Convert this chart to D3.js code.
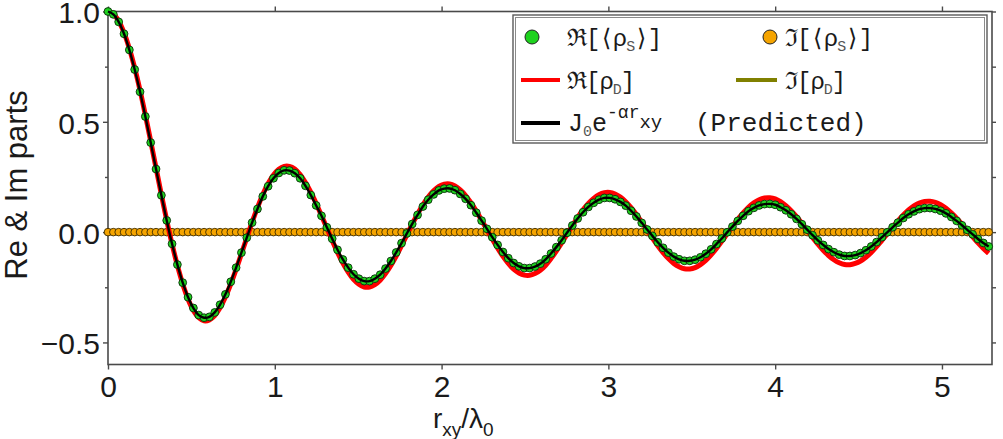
<!DOCTYPE html>
<html>
<head>
<meta charset="utf-8">
<title>Re &amp; Im parts</title>
<script src="https://d3js.org/d3.v7.min.js"></script>
<style>
  body { margin: 0; background: #fff; }
  svg { display: block; }
  text { font-family: "Liberation Sans", Arial, sans-serif; }
</style>
</head>
<body>
<svg width="1003" height="439"></svg>
<script>
// sample positions r_xy / lambda_0
const rxy = [
  0, 0.032, 0.064, 0.096, 0.128, 0.16, 0.192, 0.224, 0.256, 0.288,
  0.32, 0.352, 0.384, 0.416, 0.448, 0.48, 0.512, 0.544, 0.576, 0.608,
  0.64, 0.672, 0.704, 0.736, 0.768, 0.8, 0.832, 0.864, 0.896, 0.928,
  0.96, 0.992, 1.024, 1.056, 1.088, 1.12, 1.152, 1.184, 1.216, 1.248,
  1.28, 1.312, 1.344, 1.376, 1.408, 1.44, 1.472, 1.504, 1.536, 1.568,
  1.6, 1.632, 1.664, 1.696, 1.728, 1.76, 1.792, 1.824, 1.856, 1.888,
  1.92, 1.952, 1.984, 2.016, 2.048, 2.08, 2.112, 2.144, 2.176, 2.208,
  2.24, 2.272, 2.304, 2.336, 2.368, 2.4, 2.432, 2.464, 2.496, 2.528,
  2.56, 2.592, 2.624, 2.656, 2.688, 2.72, 2.752, 2.784, 2.816, 2.848,
  2.88, 2.912, 2.944, 2.976, 3.008, 3.04, 3.072, 3.104, 3.136, 3.168,
  3.2, 3.232, 3.264, 3.296, 3.328, 3.36, 3.392, 3.424, 3.456, 3.488,
  3.52, 3.552, 3.584, 3.616, 3.648, 3.68, 3.712, 3.744, 3.776, 3.808,
  3.84, 3.872, 3.904, 3.936, 3.968, 4, 4.032, 4.064, 4.096, 4.128,
  4.16, 4.192, 4.224, 4.256, 4.288, 4.32, 4.352, 4.384, 4.416, 4.448,
  4.48, 4.512, 4.544, 4.576, 4.608, 4.64, 4.672, 4.704, 4.736, 4.768,
  4.8, 4.832, 4.864, 4.896, 4.928, 4.96, 4.992, 5.024, 5.056, 5.088,
  5.12, 5.152, 5.184, 5.216, 5.248, 5.28
];

// Re[<rho_S>]  (green points, they sit on the J0 e^{-a r} prediction)
const reS = [
  1.000, 0.987, 0.953, 0.899, 0.826, 0.737, 0.636, 0.524, 0.406, 0.286,
  0.167, 0.053, -0.053, -0.147, -0.229, -0.295, -0.344, -0.376, -0.388, -0.384,
  -0.364, -0.329, -0.282, -0.225, -0.161, -0.093, -0.025, 0.043, 0.105, 0.162,
  0.208, 0.244, 0.268, 0.280, 0.279, 0.267, 0.244, 0.210, 0.168, 0.121,
  0.074, 0.022, -0.030, -0.080, -0.124, -0.161, -0.191, -0.211, -0.222, -0.222,
  -0.211, -0.193, -0.165, -0.131, -0.092, -0.050, -0.006, 0.037, 0.078, 0.116,
  0.147, 0.171, 0.189, 0.197, 0.198, 0.190, 0.173, 0.151, 0.122, 0.088,
  0.052, 0.015, -0.023, -0.058, -0.090, -0.118, -0.140, -0.155, -0.163, -0.163,
  -0.156, -0.143, -0.123, -0.097, -0.068, -0.037, -0.003, 0.030, 0.062, 0.090,
  0.114, 0.133, 0.147, 0.155, 0.155, 0.149, 0.137, 0.120, 0.097, 0.071,
  0.042, 0.012, -0.017, -0.046, -0.071, -0.093, -0.111, -0.123, -0.130, -0.130,
  -0.125, -0.114, -0.098, -0.078, -0.054, -0.029, -0.001, 0.025, 0.051, 0.074,
  0.095, 0.110, 0.121, 0.127, 0.128, 0.124, 0.113, 0.099, 0.081, 0.060,
  0.036, 0.011, -0.014, -0.037, -0.058, -0.077, -0.091, -0.102, -0.108, -0.108,
  -0.104, -0.095, -0.082, -0.065, -0.045, -0.023, -0.001, 0.022, 0.043, 0.064,
  0.081, 0.094, 0.104, 0.109, 0.109, 0.105, 0.097, 0.085, 0.069, 0.051,
  0.031, 0.010, -0.010, -0.031, -0.049, -0.065
];

// Re[rho_D]  (red line)
const reD = [
  1.000, 0.989, 0.957, 0.904, 0.832, 0.744, 0.643, 0.531, 0.412, 0.291,
  0.170, 0.054, -0.054, -0.151, -0.235, -0.304, -0.355, -0.388, -0.402, -0.398,
  -0.378, -0.343, -0.294, -0.235, -0.169, -0.098, -0.026, 0.045, 0.111, 0.171,
  0.220, 0.259, 0.285, 0.298, 0.298, 0.286, 0.261, 0.225, 0.181, 0.130,
  0.075, 0.018, -0.038, -0.092, -0.140, -0.181, -0.214, -0.236, -0.249, -0.249,
  -0.238, -0.218, -0.188, -0.151, -0.108, -0.061, -0.012, 0.036, 0.082, 0.124,
  0.159, 0.187, 0.207, 0.217, 0.218, 0.209, 0.191, 0.166, 0.133, 0.095,
  0.054, 0.011, -0.032, -0.073, -0.110, -0.142, -0.168, -0.185, -0.195, -0.196,
  -0.188, -0.173, -0.150, -0.120, -0.086, -0.049, -0.010, 0.029, 0.067, 0.101,
  0.130, 0.153, 0.170, 0.179, 0.180, 0.173, 0.159, 0.138, 0.111, 0.080,
  0.045, 0.009, -0.027, -0.062, -0.093, -0.120, -0.142, -0.157, -0.166, -0.167,
  -0.161, -0.147, -0.128, -0.103, -0.074, -0.042, -0.008, 0.025, 0.058, 0.087,
  0.113, 0.133, 0.147, 0.155, 0.156, 0.151, 0.138, 0.120, 0.097, 0.070,
  0.040, 0.008, -0.024, -0.054, -0.082, -0.106, -0.125, -0.139, -0.147, -0.148,
  -0.142, -0.131, -0.114, -0.092, -0.066, -0.037, -0.008, 0.022, 0.051, 0.078,
  0.101, 0.119, 0.132, 0.139, 0.140, 0.135, 0.124, 0.108, 0.087, 0.063,
  0.036, 0.007, -0.021, -0.049, -0.074, -0.096
];

// Im[<rho_S>]  (orange points)
const imS = [
  0,0,0,0,0,0,0,0,0,0, 0,0,0,0,0,0,0,0,0,0, 0,0,0,0,0,0,0,0,0,0,
  0,0,0,0,0,0,0,0,0,0, 0,0,0,0,0,0,0,0,0,0, 0,0,0,0,0,0,0,0,0,0,
  0,0,0,0,0,0,0,0,0,0, 0,0,0,0,0,0,0,0,0,0, 0,0,0,0,0,0,0,0,0,0,
  0,0,0,0,0,0,0,0,0,0, 0,0,0,0,0,0,0,0,0,0, 0,0,0,0,0,0,0,0,0,0,
  0,0,0,0,0,0,0,0,0,0, 0,0,0,0,0,0,0,0,0,0, 0,0,0,0,0,0,0,0,0,0,
  0,0,0,0,0,0,0,0,0,0, 0,0,0,0,0,0
];

// Im[rho_D]  (olive line)
const imD = [
  0,0,0,0,0,0,0,0,0,0, 0,0,0,0,0,0,0,0,0,0, 0,0,0,0,0,0,0,0,0,0,
  0,0,0,0,0,0,0,0,0,0, 0,0,0,0,0,0,0,0,0,0, 0,0,0,0,0,0,0,0,0,0,
  0,0,0,0,0,0,0,0,0,0, 0,0,0,0,0,0,0,0,0,0, 0,0,0,0,0,0,0,0,0,0,
  0,0,0,0,0,0,0,0,0,0, 0,0,0,0,0,0,0,0,0,0, 0,0,0,0,0,0,0,0,0,0,
  0,0,0,0,0,0,0,0,0,0, 0,0,0,0,0,0,0,0,0,0, 0,0,0,0,0,0,0,0,0,0,
  0,0,0,0,0,0,0,0,0,0, 0,0,0,0,0,0
];

// J0 e^{-a r_xy} prediction (black line) - the green points lie on it
const predicted = reS;

const xTicks = [0, 1, 2, 3, 4, 5];
const yTicks = [-0.5, 0, 0.5, 1.0];
const yMinor = [-0.25, 0.25, 0.75];
const yRight = [-0.5, -0.25, 0, 0.25, 0.5, 0.75, 1.0];

const cGreen = "#1ed21e", cOrange = "#f5a400", cRed = "#ff0000",
      cOlive = "#808000", cAxis = "#4a4a4a";

const svg = d3.select("svg"),
    margin = { top: 11.5, right: 11, bottom: 74.5, left: 108 },
    width = +svg.attr("width") - margin.left - margin.right,
    height = +svg.attr("height") - margin.top - margin.bottom,
    g = svg.append("g").attr("transform", `translate(${margin.left},${margin.top})`);

const x = d3.scaleLinear().domain([0, 5.3]).range([0, width]);
const y = d3.scaleLinear().domain([-0.6, 1.0]).range([height, 0]);

function styleAxis(sel, size) {
  sel.select(".domain").remove();
  sel.selectAll(".tick line").attr("stroke", cAxis).attr("stroke-width", 1.4);
  sel.selectAll(".tick text").attr("fill", "#1a1a1a")
    .style("font-size", size + "px").style("font-family", '"Liberation Sans", Arial, sans-serif');
}

// axes
g.append("g").attr("transform", `translate(0,${height})`)
  .call(d3.axisBottom(x).tickValues(xTicks).tickSize(5).tickPadding(6).tickFormat(d3.format("d")))
  .call(styleAxis, 30);
g.append("g")
  .call(d3.axisLeft(y).tickValues(yTicks).tickSize(5).tickPadding(3).tickFormat(d3.format(".1f")))
  .call(styleAxis, 30)
  .selectAll(".tick text").attr("dy", "0.38em");
g.append("g")
  .call(d3.axisLeft(y).tickValues(yMinor).tickSize(3).tickFormat(""))
  .call(styleAxis, 30);
g.append("g").attr("transform", `translate(${width},0)`)
  .call(d3.axisRight(y).tickValues(yRight).tickSize(4).tickFormat(""))
  .call(styleAxis, 30);
g.append("g")
  .call(d3.axisTop(x).tickValues(xTicks).tickSize(5).tickFormat(""))
  .call(styleAxis, 30);

g.append("rect").attr("width", width).attr("height", height)
  .attr("fill", "none").attr("stroke", cAxis).attr("stroke-width", 1.6);

// series
const line = d3.line().x((d, i) => x(rxy[i])).y(d => y(d)).curve(d3.curveCatmullRom);

g.append("path").datum(imD).attr("d", line)
  .attr("fill", "none").attr("stroke", cOlive).attr("stroke-width", 4);

g.append("g").selectAll("circle").data(imS).join("circle")
  .attr("cx", (d, i) => x(rxy[i])).attr("cy", d => y(d)).attr("r", 3.8)
  .attr("fill", cOrange).attr("stroke", "#3a2a00").attr("stroke-width", 0.9);

g.append("path").datum(reD).attr("d", line)
  .attr("fill", "none").attr("stroke", cRed).attr("stroke-width", 5)
  .attr("stroke-linejoin", "round");

g.append("g").selectAll("circle").data(reS).join("circle")
  .attr("cx", (d, i) => x(rxy[i])).attr("cy", d => y(d)).attr("r", 3.9)
  .attr("fill", cGreen).attr("stroke", "#0a2a0a").attr("stroke-width", 0.9);

g.append("path").datum(predicted).attr("d", line)
  .attr("fill", "none").attr("stroke", "#000").attr("stroke-width", 2.4)
  .attr("stroke-linejoin", "round");

// axis titles
svg.append("text")
  .attr("transform", "translate(27,185) rotate(-90)")
  .attr("text-anchor", "middle").attr("fill", "#1a1a1a")
  .style("font-size", "31px").text("Re & Im parts");

const xl = svg.append("text").attr("x", 433).attr("y", 428)
  .attr("fill", "#1a1a1a").style("font-size", "28px");
xl.append("tspan").text("r");
xl.append("tspan").attr("dy", 8).style("font-size", "19px").text("xy");
xl.append("tspan").attr("dy", -8).text("/λ");
xl.append("tspan").attr("dy", 8).style("font-size", "19px").text("0");

// legend
const lg = svg.append("g");
lg.append("rect").attr("x", 513).attr("y", 15).attr("width", 474).attr("height", 128)
  .attr("fill", "#fff").attr("stroke", "#5a5a5a").attr("stroke-width", 1.4);
lg.append("rect").attr("x", 515.5).attr("y", 17.5).attr("width", 469).attr("height", 123)
  .attr("fill", "none").attr("stroke", "#8a8a8a").attr("stroke-width", 1);

const mono = '"Liberation Mono", "DejaVu Sans Mono", monospace';

function legText(x0, y0, main, sub, tail) {
  const t = lg.append("text").attr("x", x0).attr("y", y0).attr("fill", "#1a1a1a")
    .style("font-family", mono).style("font-size", "24px").attr("letter-spacing", -1);
  t.append("tspan").text(main);
  t.append("tspan").attr("dy", 5).attr("fill", "#555").style("font-size", "15px").text(sub);
  t.append("tspan").attr("dy", -5).text(tail);
}

lg.append("circle").attr("cx", 532).attr("cy", 37).attr("r", 7)
  .attr("fill", cGreen).attr("stroke", "#222").attr("stroke-width", 1);
legText(567, 46, "ℜ[⟨ρ", "S", "⟩]");
lg.append("circle").attr("cx", 770).attr("cy", 37).attr("r", 7)
  .attr("fill", cOrange).attr("stroke", "#222").attr("stroke-width", 1);
legText(785, 46, "ℑ[⟨ρ", "S", "⟩]");

lg.append("line").attr("x1", 521).attr("x2", 560).attr("y1", 80).attr("y2", 80)
  .attr("stroke", cRed).attr("stroke-width", 4);
legText(567, 89, "ℜ[ρ", "D", "]");
lg.append("line").attr("x1", 736).attr("x2", 777).attr("y1", 80).attr("y2", 80)
  .attr("stroke", cOlive).attr("stroke-width", 4);
legText(785, 89, "ℑ[ρ", "D", "]");

lg.append("line").attr("x1", 521).attr("x2", 560).attr("y1", 123).attr("y2", 123)
  .attr("stroke", "#000").attr("stroke-width", 4);
const pt = lg.append("text").attr("x", 568).attr("y", 131).attr("fill", "#1a1a1a")
  .style("font-family", mono).style("font-size", "25px");
pt.append("tspan").text("J");
pt.append("tspan").attr("dy", 5).attr("fill", "#555").style("font-size", "15px").text("0");
pt.append("tspan").attr("dy", -5).text("e");
pt.append("tspan").attr("dy", -13).style("font-size", "18px").text("-αr");
pt.append("tspan").attr("dy", 10).style("font-size", "19px").text("xy");
lg.append("text").attr("x", 695).attr("y", 131).attr("fill", "#1a1a1a")
  .style("font-family", mono).style("font-size", "26px").text("(Predicted)");
</script>
</body>
</html>
